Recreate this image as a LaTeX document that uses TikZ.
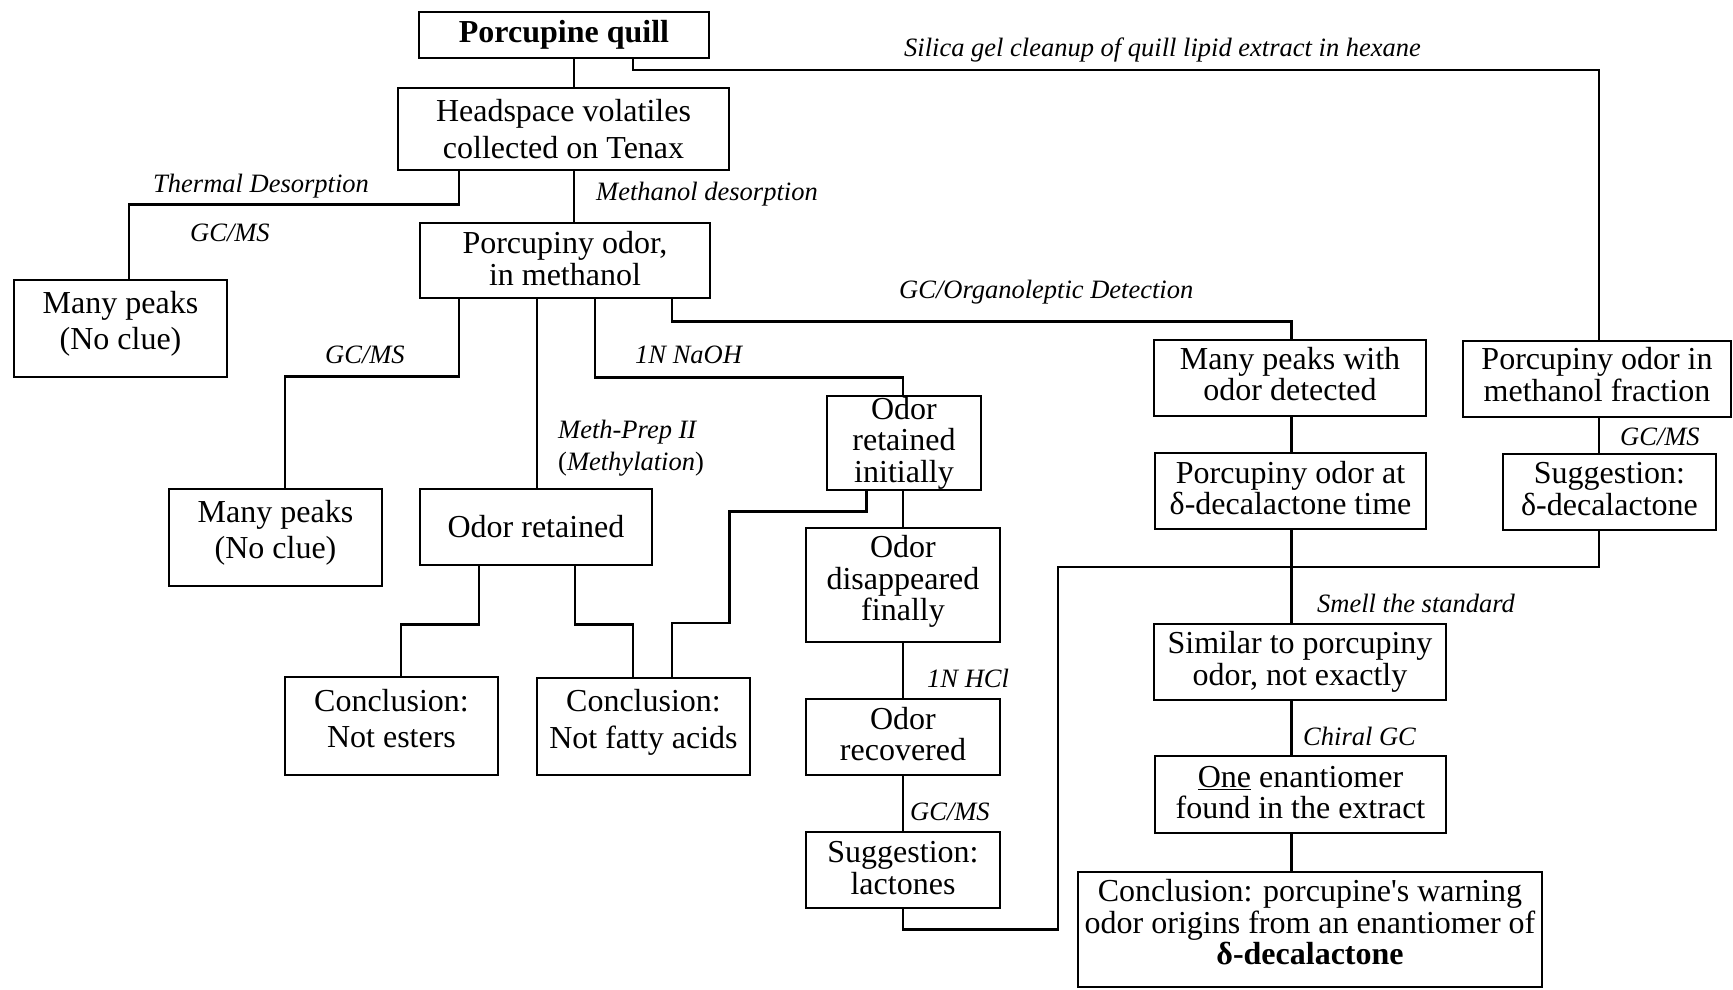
\documentclass[tikz,border=0pt]{standalone}
\usepackage{fontspec}
\setmainfont{Liberation Serif}
\newcommand{\boxfont}{\fontsize{32}{31.5}\selectfont}
\newcommand{\labfont}{\fontsize{26.5}{30}\selectfont\itshape}
\newcommand{\xdepth}[1]{\rule[-#1]{0pt}{#1}}
\begin{document}
\begin{tikzpicture}[x=1pt,y=-1pt,
  bx/.style={draw, line width=2.5pt, inner sep=0pt, align=center, font=\boxfont},
  conn/.style={line width=2.5pt},
  lab/.style={anchor=west, inner sep=0pt, font=\labfont}]
\useasboundingbox[fill=white] (0,0) rectangle (1733,990);

% boxes
\node[bx, minimum width=290pt, minimum height=46pt] (quill) at (564,35) {\textbf{Porcupine quill}};
\node[bx, minimum width=331pt, minimum height=82pt] (head) at (563.5,129) {Headspace volatiles\\[5pt]collected on Tenax};
\node[bx, minimum width=213pt, minimum height=97pt] (manyL) at (120.5,328.5) {Many peaks\\[5pt](No clue)\xdepth{16.5pt}};
\node[bx, minimum width=290pt, minimum height=75pt] (odor) at (565,260.5) {Porcupiny odor,\\in methanol\xdepth{4pt}};
\node[bx, minimum width=213pt, minimum height=97pt] (many2) at (275.5,537.5) {Many peaks\\[5pt](No clue)\xdepth{16.5pt}};
\node[bx, minimum width=232pt, minimum height=76pt] (retained) at (536,527) {Odor retained};
\node[bx, minimum width=154pt, minimum height=94pt] (initially) at (904,443) {Odor\\retained\\initially};
\node[bx, minimum width=194pt, minimum height=114pt] (disappeared) at (903,585) {Odor\\disappeared\\finally\xdepth{13.5pt}};
\node[bx, minimum width=194pt, minimum height=76pt] (recovered) at (903,737) {Odor\\recovered\xdepth{6.6pt}};
\node[bx, minimum width=194pt, minimum height=76pt] (lactones) at (903,870) {Suggestion:\\lactones\xdepth{4pt}};
\node[bx, minimum width=213pt, minimum height=98pt] (esters) at (391.5,726) {Conclusion:\\[5pt]Not esters\xdepth{15.5pt}};
\node[bx, minimum width=213pt, minimum height=97pt] (fatty) at (643.5,726.5) {Conclusion:\\[5pt]Not fatty acids\xdepth{15.6pt}};
\node[bx, minimum width=272pt, minimum height=76pt] (manyodor) at (1290,378) {Many peaks with\\odor detected\xdepth{8pt}};
\node[bx, minimum width=268pt, minimum height=76pt] (methfrac) at (1597,379) {Porcupiny odor in\\methanol fraction\xdepth{9pt}};
\node[bx, minimum width=271pt, minimum height=76pt] (atdeca) at (1290.5,491) {Porcupiny odor at\\δ-decalactone time\xdepth{6.6pt}};
\node[bx, minimum width=213pt, minimum height=76pt] (suggdeca) at (1609.5,492) {Suggestion:\\δ-decalactone\xdepth{6.6pt}};
\node[bx, minimum width=292pt, minimum height=76pt] (similar) at (1300,662) {Similar to porcupiny\\odor, not exactly};
\node[bx, minimum width=291pt, minimum height=77pt] (one) at (1300.5,794.5) {\underline{One} enantiomer\\found in the extract\xdepth{4.4pt}};
\node[bx, minimum width=464pt, minimum height=115pt] (concl) at (1310,929.5) {Conclusion: porcupine\textquotesingle s warning\\odor origins from an enantiomer of\\\textbf{δ-decalactone}\xdepth{15pt}};

% connectors
\draw[conn] ([xshift=10pt]quill.south) -- ([xshift=10.5pt]head.north);
\draw[conn] ([xshift=69pt]quill.south) -- ++(0,11) -| ([xshift=2pt]methfrac.north);
\draw[conn] ([xshift=-104.5pt]head.south) -- ++(0,33) -| ([xshift=8.5pt]manyL.north);
\draw[conn] ([xshift=10.5pt]head.south) -- ([xshift=9pt]odor.north);
\draw[conn] ([xshift=-106pt]odor.south) -- ++(0,77) -| ([xshift=9.5pt]many2.north);
\draw[conn] ([xshift=-28pt]odor.south) -- ([xshift=1pt]retained.north);
\draw[conn] ([xshift=30pt]odor.south) -- ++(0,78) -| ([xshift=-1pt]initially.north);
\draw[conn] ([xshift=107pt]odor.south) -- ++(0,22) -| ([xshift=1.5pt]manyodor.north);
\draw[conn] ([xshift=-57pt]retained.south) -- ++(0,58) -| ([xshift=9.5pt]esters.north);
\draw[conn] ([xshift=39pt]retained.south) -- ++(0,58) -| ([xshift=-10.5pt]fatty.north);
\draw[conn] ([xshift=-37.3pt]initially.south) -- ++(0,20) -| (729.6,623) -| ([xshift=28.5pt]fatty.north);
\draw[conn] ([xshift=-1pt]initially.south) -- (disappeared.north);
\draw[conn] (disappeared.south) -- (recovered.north);
\draw[conn] (recovered.south) -- (lactones.north);
\draw[conn] (lactones.south) -- ++(0,20) -| (1058,567) -| ([xshift=-10.5pt]suggdeca.south);
\draw[conn] ([xshift=2pt]methfrac.south) -- ([xshift=-10.5pt]suggdeca.north);
\draw[conn] ([xshift=1.5pt]manyodor.south) -- ([xshift=1pt]atdeca.north);
\draw[conn] ([xshift=1pt]atdeca.south) -- ([xshift=-8.5pt]similar.north);
\draw[conn] ([xshift=-8.5pt]similar.south) -- ([xshift=-9pt]one.north);
\draw[conn] ([xshift=-9pt]one.south) -- ([xshift=-18.5pt]concl.north);

% labels
\node[lab] (l1) at (904,50) {Silica gel cleanup of quill lipid extract in hexane};
\node[lab] (l2) at (153,186) {Thermal Desorption};
\node[lab] (l3) at (190,233) {GC/MS};
\node[lab] (l4) at (596,194) {Methanol desorption};
\node[lab] (l5) at (325,355) {GC/MS};
\node[lab] (l6) at (635,355) {1N NaOH};
\node[lab] (l7) at (558,432) {Meth-Prep II};
\node[lab] (l8) at (558,464) {\textup{(}Methylation\textup{)}};
\node[lab] (l9) at (899,292) {GC/Organoleptic Detection};
\node[lab] (l10) at (1620,437) {GC/MS};
\node[lab] (l11) at (927,678) {1N HCl};
\node[lab] (l12) at (910,812) {GC/MS};
\node[lab] (l13) at (1317,603) {Smell the standard};
\node[lab] (l14) at (1303,736) {Chiral GC};
\end{tikzpicture}
\end{document}
